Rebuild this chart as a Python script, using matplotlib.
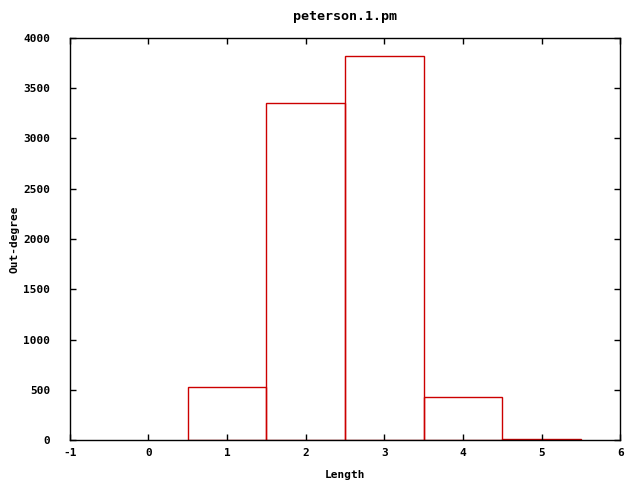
import matplotlib
matplotlib.use("Agg")
import matplotlib.pyplot as plt

# Histogram of path lengths (gnuplot-style boxes)
lengths = [1, 2, 3, 4, 5]
counts = [525, 3352, 3820, 428, 8]
xticks = [-1, 0, 1, 2, 3, 4, 5, 6]
yticks = [0, 500, 1000, 1500, 2000, 2500, 3000, 3500, 4000]

plt.rcParams['font.family'] = ['DejaVu Sans Mono']
plt.rcParams['font.weight'] = 'bold'
plt.rcParams['font.size'] = 8
plt.rcParams['axes.unicode_minus'] = False

fig = plt.figure(figsize=(6.4, 4.8), dpi=100)
ax = fig.add_axes([0.109, 0.083, 0.86, 0.838])

ax.bar(lengths, counts, width=1.0, fill=False, edgecolor='#cc0000', linewidth=1.0)

ax.set_xlim(-1, 6)
ax.set_ylim(0, 4000)
ax.set_xticks(xticks)
ax.set_yticks(yticks)
ax.tick_params(direction='in', top=True, right=True, length=4, width=1)
ax.tick_params(axis='x', pad=6)
ax.tick_params(axis='y', pad=14)
for s in ax.spines.values():
    s.set_linewidth(1)

ax.set_xlabel('Length', fontweight='bold', labelpad=8)
ax.set_ylabel('Out-degree', fontweight='bold', labelpad=3)
ax.set_title('peterson.1.pm', fontweight='bold', pad=13)

fig.savefig('out.png', dpi=100)
